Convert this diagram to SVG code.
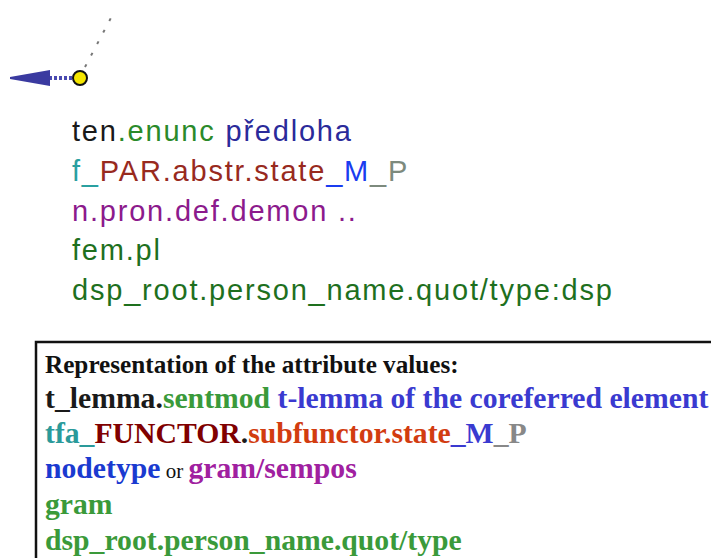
<svg xmlns="http://www.w3.org/2000/svg" width="711" height="558" viewBox="0 0 711 558">
  <style>
    .lbl { font-family: "Liberation Sans", Arial, sans-serif; font-size: 29px; letter-spacing: 1.8px; }
    .leg { font-family: "Liberation Serif", "Times New Roman", serif; font-weight: bold; font-size: 29.7px; }
    .legtitle { font-family: "Liberation Serif", "Times New Roman", serif; font-weight: bold; font-size: 25.2px; fill: #111; }
    .small { font-weight: normal; font-size: 21px; fill: #111; }
    .blk { fill: #1a1a1a; }
    .grn { fill: #2a8a2a; }
    .dgrn { fill: #1e701e; }
    .dblue { fill: #2a2a9a; }
    .teal { fill: #2aa0a0; }
    .brown { fill: #982a1e; }
    .blue { fill: #1a3cf0; }
    .grey { fill: #7d8a7d; }
    .purple { fill: #8c1a8c; }
    .lgrn { fill: #3a9a3a; }
    .lblue { fill: #3a3ad0; }
    .lteal { fill: #2a9a9a; }
    .maroon { fill: #800000; }
    .orange { fill: #d23c10; }
    .lgrey { fill: #888888; }
    .nblue { fill: #1a3ad0; }
    .lpurple { fill: #a020a0; }
  </style>

  <!-- connectors -->
  <g id="edges">
    <line x1="85" y1="67" x2="113" y2="14" stroke="#777" stroke-width="2" stroke-dasharray="3 10"/>
    <line x1="72" y1="78" x2="48" y2="78" stroke="#4a4ab0" stroke-width="4" stroke-dasharray="3 2"/>
    <polygon points="10,77 50,70 50,86 10,79" fill="#3a3aa0"/>
  </g>

  <!-- node -->
  <g id="node">
    <circle cx="80" cy="78" r="7" fill="#f5e600" stroke="#111" stroke-width="2"/>
  </g>

  <!-- node labels -->
  <g id="labels" class="lbl">
    <text x="72" y="141"><tspan class="blk">ten</tspan><tspan class="grn">.enunc</tspan><tspan class="dblue"> předloha</tspan></text>
    <text x="72" y="181"><tspan class="teal">f_</tspan><tspan class="brown">PAR.abstr.state</tspan><tspan class="blue">_M</tspan><tspan class="grey">_P</tspan></text>
    <text x="72" y="221" class="purple">n.pron.def.demon ..</text>
    <text x="72" y="260" class="dgrn">fem.pl</text>
    <text x="72" y="300" class="dgrn">dsp_root.person_name.quot/type:dsp</text>
  </g>

  <!-- legend box -->
  <g id="legend">
    <rect x="36" y="342" width="700" height="240" fill="#fff" stroke="#111" stroke-width="2.5"/>
    <text x="45" y="373" class="legtitle">Representation of the attribute values:</text>
    <text x="45" y="408" class="leg"><tspan class="blk">t_lemma.</tspan><tspan class="lgrn">sentmod</tspan><tspan class="lblue"> t-lemma of the coreferred element</tspan></text>
    <text x="45" y="443" class="leg"><tspan class="lteal">tfa_</tspan><tspan class="maroon">FUNCTOR</tspan><tspan class="blk">.</tspan><tspan class="orange">subfunctor.state</tspan><tspan class="lblue">_M</tspan><tspan class="lgrey">_P</tspan></text>
    <text x="45" y="478" class="leg"><tspan class="nblue">nodetype</tspan><tspan class="small"> or </tspan><tspan class="lpurple">gram/sempos</tspan></text>
    <text x="45" y="514" class="leg lgrn">gram</text>
    <text x="45" y="550" class="leg lgrn">dsp_root.person_name.quot/type</text>
  </g>
</svg>
